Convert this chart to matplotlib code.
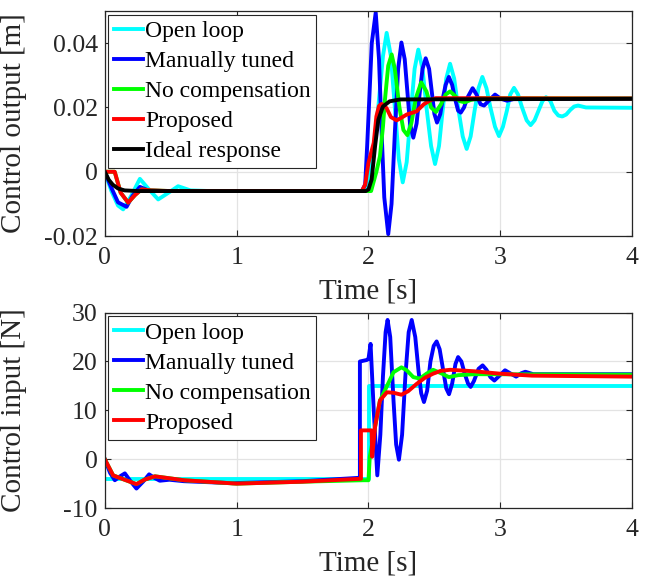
import matplotlib
matplotlib.use('Agg')
import matplotlib.pyplot as plt

# Output response [m]
t_open_out = [0, 0.05, 0.10, 0.139, 0.20, 0.266, 0.335, 0.405, 0.48, 0.556, 0.65, 0.8, 1.95, 1.99,
              2.03, 2.075, 2.11, 2.138, 2.17, 2.20, 2.23, 2.26, 2.29, 2.32, 2.35, 2.378, 2.41, 2.44,
              2.475, 2.505, 2.535, 2.56, 2.59, 2.619, 2.65, 2.68, 2.715, 2.745, 2.775, 2.805, 2.835,
              2.864, 2.895, 2.925, 2.96, 2.99, 3.02, 3.05, 3.075, 3.104, 3.135, 3.165, 3.20, 3.23,
              3.26, 3.29, 3.32, 3.347, 3.38, 3.41, 3.44, 3.47, 3.50, 3.53, 3.56, 3.59, 3.65, 4.0]
y_open_out = [0, -0.006, -0.0105, -0.0117, -0.0075, -0.0022, -0.0055, -0.0086, -0.0066, -0.0045,
              -0.0058, -0.006, -0.006, -0.0058, 0.004, 0.0203, 0.036, 0.0432, 0.036, 0.020, 0.004,
              -0.0033, 0.003, 0.018, 0.032, 0.038, 0.032, 0.020, 0.008, 0.0024, 0.008, 0.018, 0.029,
              0.0336, 0.029, 0.020, 0.011, 0.0071, 0.011, 0.019, 0.026, 0.0295, 0.026, 0.020, 0.014,
              0.0111, 0.014, 0.019, 0.024, 0.0261, 0.024, 0.020, 0.016, 0.0145, 0.016, 0.019, 0.022,
              0.0232, 0.022, 0.019, 0.0175, 0.0172, 0.0178, 0.0192, 0.0203, 0.0206, 0.0200, 0.0199]

t_manual_out = [0, 0.05, 0.10, 0.165, 0.21, 0.266, 0.33, 0.45, 1.95, 1.975, 1.99, 2.006, 2.025,
                2.055, 2.08, 2.10, 2.12, 2.15, 2.175, 2.20, 2.225, 2.25, 2.275, 2.295, 2.315, 2.34,
                2.365, 2.39, 2.41, 2.434, 2.46, 2.48, 2.50, 2.52, 2.545, 2.565, 2.585, 2.61, 2.635,
                2.655, 2.68, 2.70, 2.725, 2.75, 2.79, 2.82, 2.85, 2.877, 2.91, 2.96, 3.0, 3.05, 3.1, 4.0]
y_manual_out = [0, -0.005, -0.0095, -0.0109, -0.0075, -0.0047, -0.0058, -0.006, -0.006, -0.004,
                0.008, 0.0224, 0.040, 0.0495, 0.035, 0.012, -0.008, -0.0194, -0.010, 0.012, 0.032,
                0.0402, 0.035, 0.025, 0.015, 0.0106, 0.015, 0.025, 0.032, 0.0353, 0.032, 0.025,
                0.018, 0.0153, 0.018, 0.023, 0.027, 0.0295, 0.027, 0.023, 0.019, 0.0184, 0.020,
                0.023, 0.026, 0.024, 0.021, 0.0206, 0.022, 0.024, 0.0228, 0.0221, 0.0226, 0.0227]

t_nocomp_out = [0, 0.075, 0.12, 0.177, 0.23, 0.278, 0.35, 0.5, 1.95, 2.02, 2.06, 2.087, 2.11, 2.125,
                2.15, 2.176, 2.20, 2.235, 2.265, 2.295, 2.325, 2.36, 2.40, 2.44, 2.475, 2.512, 2.55,
                2.585, 2.619, 2.66, 2.69, 2.73, 2.78, 2.85, 4.0]
y_nocomp_out = [0, 0.0, -0.0065, -0.0096, -0.0072, -0.0055, -0.0058, -0.006, -0.006, -0.006, 0.0,
                0.0048, 0.014, 0.0224, 0.033, 0.0365, 0.032, 0.020, 0.013, 0.0114, 0.015, 0.023,
                0.0278, 0.025, 0.020, 0.0186, 0.021, 0.024, 0.025, 0.0235, 0.022, 0.0216, 0.0224,
                0.0229, 0.0228]

t_prop_out = [0, 0.075, 0.12, 0.177, 0.23, 0.278, 0.35, 0.5, 1.95, 1.975, 2.0, 2.04, 2.06, 2.08,
              2.10, 2.137, 2.17, 2.214, 2.25, 2.29, 2.365, 2.42, 2.467, 2.51, 4.0]
y_prop_out = [0, 0.0, -0.0065, -0.0096, -0.0072, -0.0055, -0.0058, -0.006, -0.006, -0.004, 0.0028,
              0.009, 0.0172, 0.0205, 0.0211, 0.0198, 0.017, 0.016, 0.0168, 0.0178, 0.0188, 0.021,
              0.0222, 0.0229, 0.0228]

t_ideal_out = [0, 0.03, 0.06, 0.10, 0.15, 0.25, 1.98, 2.0, 2.024, 2.05, 2.075, 2.11, 2.16, 2.24, 4.0]
y_ideal_out = [0, -0.0025, -0.004, -0.0052, -0.0058, -0.006, -0.006, -0.0055, -0.0024, 0.0079,
               0.0162, 0.0203, 0.0219, 0.0225, 0.0227]

# Control input [N]
t_open_in = [0, 2.006, 2.006, 4.0]
u_open_in = [-4.1, -4.1, 15.0, 15.0]

t_manual_in = [0, 0.04, 0.076, 0.11, 0.152, 0.195, 0.24, 0.29, 0.336, 0.375, 0.417, 0.49, 0.6,
               0.97, 1.5, 1.935, 1.935, 1.986, 2.0, 2.016, 2.04, 2.067, 2.09, 2.11, 2.13, 2.145,
               2.165, 2.19, 2.21, 2.231, 2.255, 2.28, 2.305, 2.328, 2.355, 2.38, 2.40, 2.421, 2.445,
               2.47, 2.495, 2.517, 2.54, 2.565, 2.59, 2.611, 2.635, 2.66, 2.68, 2.705, 2.73, 2.755,
               2.775, 2.80, 2.835, 2.866, 2.895, 2.925, 2.955, 2.99, 3.036, 3.08, 3.12, 3.16, 3.19,
               3.25, 4.0]
u_manual_in = [0, -2.8, -4.3, -3.6, -2.9, -4.5, -6.0, -4.6, -3.1, -3.8, -4.4, -4.2, -4.5, -4.9,
               -4.5, -3.8, 20.0, 20.3, 20.5, 23.6, 10, -3.3, 5, 17, 26, 28.5, 25, 12, 3, -0.1, 5, 17,
               26, 28.5, 25, 18, 13.5, 11.7, 14, 20, 23.2, 24.1, 22.5, 18.5, 14.5, 13.3, 15.5, 19.5,
               20.9, 20, 17.5, 15.5, 14.8, 16, 18.5, 19.2, 18.3, 16.8, 16.1, 17, 18.2, 17.5, 16.9,
               17.6, 17.9, 17.4, 17.4]

t_nocomp_in = [0, 0.063, 0.14, 0.24, 0.30, 0.38, 0.6, 1.0, 1.5, 1.96, 2.0, 2.01, 2.05, 2.087,
               2.125, 2.19, 2.25, 2.29, 2.34, 2.39, 2.44, 2.49, 2.55, 2.61, 2.68, 2.8, 4.0]
u_nocomp_in = [0, -3.3, -4.1, -5.1, -4.2, -3.5, -4.3, -5.0, -4.6, -4.3, -4.3, 0.5, 6.6, 12, 14.1,
               17.8, 18.8, 18.2, 16.8, 16.5, 17.5, 18.3, 17.6, 16.8, 17.2, 17.4, 17.3]

t_prop_in = [0, 0.063, 0.14, 0.24, 0.30, 0.38, 0.6, 1.0, 1.5, 1.943, 1.943, 2.024, 2.028, 2.05,
             2.087, 2.14, 2.19, 2.25, 2.30, 2.365, 2.43, 2.49, 2.55, 2.62, 2.8, 3.0, 3.24, 4.0]
u_prop_in = [0, -3.3, -4.1, -5.1, -4.2, -3.5, -4.3, -5.0, -4.6, -4.0, 5.9, 5.9, 0.5, 6.6, 12,
             13.7, 13.6, 13.2, 13.9, 15.4, 16.7, 17.5, 18.1, 18.3, 18.0, 17.5, 17.1, 16.9]

labels = ['Open loop', 'Manually tuned', 'No compensation', 'Proposed', 'Ideal response']
colors = ['#00ffff', '#0000ff', '#00ff00', '#ff0000', '#000000']

plt.rcParams['font.family'] = ['Liberation Serif', 'DejaVu Serif']
plt.rcParams['axes.unicode_minus'] = False

fig = plt.figure(figsize=(6.51, 5.8), dpi=100)
ax1 = fig.add_axes([0.161, 0.593, 0.810, 0.388])
ax2 = fig.add_axes([0.161, 0.124, 0.810, 0.337])

lw = 2.8
out_series = [(t_open_out, y_open_out), (t_manual_out, y_manual_out), (t_nocomp_out, y_nocomp_out),
              (t_prop_out, y_prop_out), (t_ideal_out, y_ideal_out)]
for (t, y), c, lab in zip(out_series, colors, labels):
    ax1.plot(t, y, color=c, lw=lw, label=lab)

in_series = [(t_open_in, u_open_in), (t_manual_in, u_manual_in), (t_nocomp_in, u_nocomp_in),
             (t_prop_in, u_prop_in)]
for (t, u), c, lab in zip(in_series, colors, labels):
    ax2.plot(t, u, color=c, lw=lw, label=lab)


def style_axes(ax, yticks, ylabels, ylabel):
    ax.set_xlim(0, 4)
    ax.set_xticks([0, 1, 2, 3, 4])
    ax.set_xticklabels(['0', '1', '2', '3', '4'])
    ax.set_yticks(yticks)
    ax.set_yticklabels(ylabels)
    ax.grid(True, color='#e3e3e3', lw=0.9)
    ax.set_axisbelow(True)
    ax.tick_params(direction='in', top=True, right=True, length=4, width=0.8,
                   labelsize=18.5, colors='#262626')
    ax.tick_params(axis='y', pad=5)
    ax.tick_params(axis='x', pad=8)
    for s in ax.spines.values():
        s.set_color('#262626')
        s.set_linewidth(0.9)
    ax.set_xlabel('Time [s]', fontsize=21, color='#262626', labelpad=7)
    ax.set_ylabel(ylabel, fontsize=21, color='#262626')
    ax.yaxis.set_label_coords(-0.148, 0.5)
    leg = ax.legend(loc='upper left', fontsize=17, fancybox=False, framealpha=1,
                    edgecolor='#262626', borderaxespad=0.15, borderpad=0.25,
                    handlelength=1.2, handletextpad=0.1, labelspacing=0.36)
    leg.get_frame().set_linewidth(0.8)


style_axes(ax1, [-0.02, 0, 0.02, 0.04], ['-0.02', '0', '0.02', '0.04'], 'Control output [m]')
ax1.set_ylim(-0.02, 0.05)
style_axes(ax2, [-10, 0, 10, 20, 30], ['-10', '0', '10', '20', '30'], 'Control input [N]')
ax2.set_ylim(-10, 30)

fig.savefig('out.png', dpi=100)
